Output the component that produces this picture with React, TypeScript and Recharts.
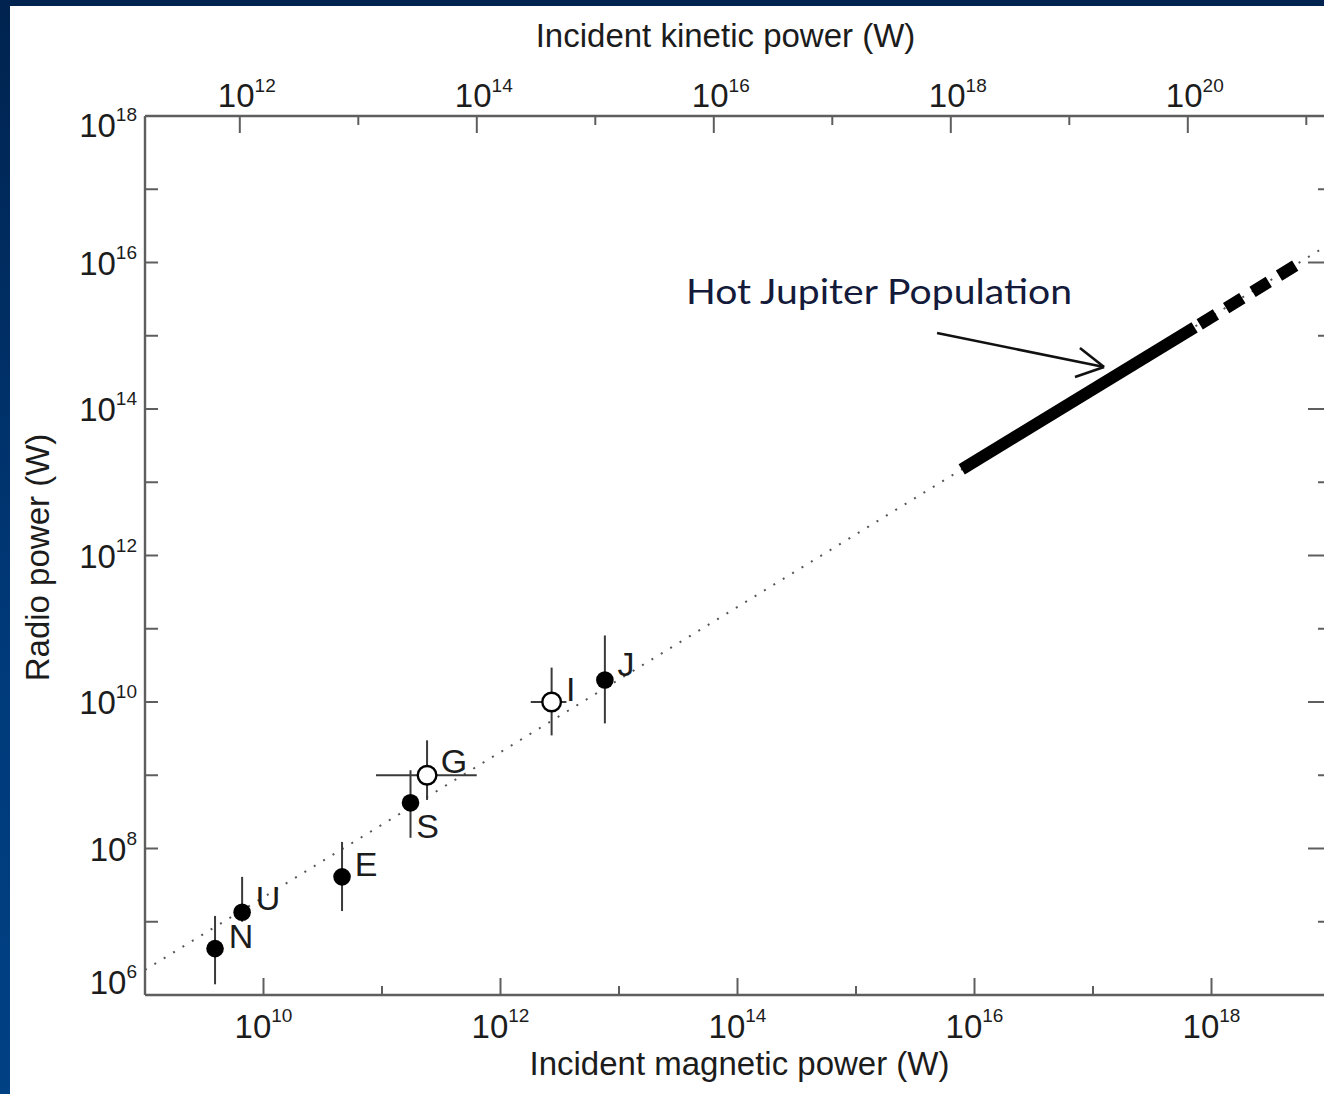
import React from 'react'
import { ComposedChart, XAxis, YAxis, Line, Scatter, ErrorBar, ReferenceLine, Label } from 'recharts'

// solar system bodies (filled = planets, open = satellites)
const bodies = ['N', 'U', 'E', 'S', 'G', 'I', 'J']
const isSatellite = [false, false, false, false, true, true, false]
const magneticPower = [3.9e9, 6.6e9, 4.6e10, 1.74e11, 2.4e11, 2.7e12, 7.6e12]
const magneticLow = [0, 0, 0, 0, 8.9e10, 1.8e12, 0]
const magneticHigh = [0, 0, 0, 0, 6.3e11, 3.6e12, 0]
const radioPower = [4.3e6, 1.35e7, 4.1e7, 4.2e8, 1.0e9, 1.0e10, 2.0e10]
const radioLow = [1.4e6, 1.0e7, 1.4e7, 1.4e8, 4.6e8, 3.5e9, 5.1e9]
const radioHigh = [1.2e7, 4.1e7, 1.23e8, 1.17e9, 3.0e9, 2.95e10, 8.1e10]

// radio-magnetic Bode's law fit
const fitMagnetic = [1e9, 1e19]
const fitRadio = [2.2e6, 1.8e16]

// hot Jupiter population (solid) and its extension (dashed)
const hotJupiterMagnetic = [7.8e15, 7.2e17]
const hotJupiterRadio = [1.5e13, 1.3e15]
const extensionMagnetic = [7.2e17, 6.2e18]
const extensionRadio = [1.3e15, 1.1e16]

// kinetic power range of the top axis
const kineticRange = [1.585e11, 1.585e21]

// annotation arrow: shaft and the two arms of the head
const arrowSegments = [
  [[4.83e15, 1.09e15], [1.24e17, 3.74e14]],
  [[7.76e16, 6.81e14], [1.24e17, 3.74e14]],
  [[7.05e16, 2.74e14], [1.24e17, 3.74e14]],
]

const magneticTicks = [1e9, 1e10, 1e11, 1e12, 1e13, 1e14, 1e15, 1e16, 1e17, 1e18, 1e19]
const kineticTicks = [1e12, 1e13, 1e14, 1e15, 1e16, 1e17, 1e18, 1e19, 1e20, 1e21]
const radioTicks = [1e6, 1e7, 1e8, 1e9, 1e10, 1e11, 1e12, 1e13, 1e14, 1e15, 1e16, 1e17, 1e18]

// label placement relative to each marker
const labelOffsets = [[26, -13], [26, -14], [24, -13], [17, 23], [27, -14], [19, -13], [21, -16]]

const points = bodies.map((name, i) => ({
  name,
  x: magneticPower[i],
  y: radioPower[i],
  open: isSatellite[i],
  errY: [radioPower[i] - radioLow[i], radioHigh[i] - radioPower[i]],
  errX: magneticLow[i] ? [magneticPower[i] - magneticLow[i], magneticHigh[i] - magneticPower[i]] : [0, 0],
}))
const fitLine = fitMagnetic.map((x, i) => ({ x, y: fitRadio[i] }))
const hotJupiters = hotJupiterMagnetic.map((x, i) => ({ x, y: hotJupiterRadio[i] }))
const extension = extensionMagnetic.map((x, i) => ({ x, y: extensionRadio[i] }))
const kineticFrame = kineticRange.map((x) => ({ x, y: 1e6 }))

const axisColor = '#5e5e5e'
const textColor = '#1c1c1c'
const font = '"Liberation Sans", Arial, Helvetica, sans-serif'

const exponent = (v: number) => Math.round(Math.log10(v))

function Power({ x, y, exp, anchor, supDy }: any) {
  return (
    <text x={x} y={y} textAnchor={anchor} fill={textColor} style={{ fontFamily: font, fontSize: 33 }}>
      10
      <tspan dy={supDy} style={{ fontSize: 19 }}>{exp}</tspan>
    </text>
  )
}

function MagneticTick({ x, y, payload }: any) {
  const e = exponent(payload.value)
  const major = e % 2 === 0
  return (
    <g>
      <line x1={x} x2={x} y1={y} y2={y - (major ? 17 : 9)} stroke={axisColor} strokeWidth={2} />
      {major && <Power x={x} y={y + 43} exp={e} anchor="middle" supDy={-16} />}
    </g>
  )
}

function KineticTick({ x, y, payload }: any) {
  const e = exponent(payload.value)
  const major = e % 2 === 0
  return (
    <g>
      <line x1={x} x2={x} y1={y} y2={y + (major ? 17 : 9)} stroke={axisColor} strokeWidth={2} />
      {major && <Power x={x + 7} y={y - 9} exp={e} anchor="middle" supDy={-15} />}
    </g>
  )
}

function RadioTick({ x, y, payload }: any) {
  const e = exponent(payload.value)
  const shift = e === 18 ? 21 : e === 6 ? -1 : 12
  return (
    <g>
      <line x1={x} x2={x + 13} y1={y} y2={y} stroke={axisColor} strokeWidth={2} />
      {e % 2 === 0 && <Power x={x - 8} y={y + shift} exp={e} anchor="end" supDy={-16} />}
    </g>
  )
}

function RightTick({ x, y, payload }: any) {
  const major = exponent(payload.value) % 2 === 0
  return <line x1={x} x2={x - (major ? 22 : 12)} y1={y} y2={y} stroke={axisColor} strokeWidth={2} />
}

function BodyMarker({ cx, cy, payload }: any) {
  const i = bodies.indexOf(payload.name)
  const [dx, dy] = labelOffsets[i]
  return (
    <g>
      {payload.open
        ? <circle cx={cx} cy={cy} r={9.3} fill="#fff" stroke="#000" strokeWidth={2.4} />
        : <circle cx={cx} cy={cy} r={8.8} fill="#000" />}
      <text x={cx + dx} y={cy + dy + 12} textAnchor="middle" fill={textColor} style={{ fontFamily: font, fontSize: 34 }}>
        {payload.name}
      </text>
    </g>
  )
}

const bottomTitle = ({ viewBox }: any) => (
  <text x={viewBox.x + viewBox.width / 2 + 2} y={viewBox.y + 80} textAnchor="middle" fill={textColor}
    style={{ fontFamily: font, fontSize: 33 }}>
    Incident magnetic power (W)
  </text>
)

const topTitle = ({ viewBox }: any) => (
  <text x={viewBox.x + viewBox.width / 2 - 12} y={viewBox.y + 47} textAnchor="middle" fill={textColor}
    style={{ fontFamily: font, fontSize: 33 }}>
    Incident kinetic power (W)
  </text>
)

const leftTitle = ({ viewBox }: any) => (
  <text transform={`translate(${viewBox.x + 49},${viewBox.y + viewBox.height / 2 + 2}) rotate(-90)`}
    textAnchor="middle" fill={textColor} style={{ fontFamily: font, fontSize: 33 }}>
    Radio power (W)
  </text>
)

export default function App() {
  return (
    <div style={{ position: 'fixed', inset: 0, overflow: 'hidden', background: 'linear-gradient(180deg, #00234f 0%, #003a7a 60%, #004184 100%)' }}>
      <div style={{ position: 'absolute', left: 10, top: 6, right: 0, bottom: 0, background: '#fff' }} />
      <div style={{ position: 'absolute', left: 0, top: 0 }}>
        <ComposedChart width={1340} height={1094} margin={{ top: 0, right: 0, bottom: 0, left: 0 }}>
          <XAxis
            dataKey="x" type="number" scale="log" domain={[1e9, 1e19]} allowDataOverflow
            ticks={magneticTicks} interval={0} tick={MagneticTick} tickLine={false} tickSize={0} tickMargin={0}
            height={99} axisLine={{ stroke: axisColor, strokeWidth: 2.4 }}
          >
            <Label content={bottomTitle} />
          </XAxis>
          <XAxis
            xAxisId="top" dataKey="x" orientation="top" type="number" scale="log" domain={kineticRange} allowDataOverflow
            ticks={kineticTicks} interval={0} tick={KineticTick} tickLine={false} tickSize={0} tickMargin={0}
            height={116} axisLine={{ stroke: axisColor, strokeWidth: 2.4 }}
          >
            <Label content={topTitle} />
          </XAxis>
          <YAxis
            dataKey="y" type="number" scale="log" domain={[1e6, 1e18]} allowDataOverflow
            ticks={radioTicks} interval={0} tick={RadioTick} tickLine={false} tickSize={0} tickMargin={0}
            width={145} axisLine={{ stroke: axisColor, strokeWidth: 2.4 }}
          >
            <Label content={leftTitle} />
          </YAxis>
          <YAxis
            yAxisId="right" orientation="right" type="number" scale="log" domain={[1e6, 1e18]} allowDataOverflow
            ticks={radioTicks} interval={0} tick={RightTick} tickLine={false} tickSize={0} tickMargin={0}
            width={10} axisLine={{ stroke: axisColor, strokeWidth: 2.4 }}
          />
          <Line xAxisId="top" data={kineticFrame} dataKey="y" stroke="none" dot={false} activeDot={false}
            isAnimationActive={false} />
          <Line data={fitLine} dataKey="y" stroke="#555" strokeWidth={2} strokeDasharray="2 9"
            dot={false} activeDot={false} isAnimationActive={false} />
          <Line data={hotJupiters} dataKey="y" stroke="#000" strokeWidth={12}
            dot={false} activeDot={false} isAnimationActive={false} />
          <Line data={extension} dataKey="y" stroke="#000" strokeWidth={12} strokeDasharray="19 12" strokeDashoffset={25}
            dot={false} activeDot={false} isAnimationActive={false} />
          {arrowSegments.map((seg, i) => (
            <ReferenceLine key={i} segment={seg.map(([x, y]) => ({ x, y }))} stroke="#111" strokeWidth={2.6} ifOverflow="visible" />
          ))}
          <Scatter data={points} dataKey="y" shape={BodyMarker} isAnimationActive={false}>
            <ErrorBar dataKey="errY" direction="y" width={0} stroke="#3a3a3a" strokeWidth={2} />
            <ErrorBar dataKey="errX" direction="x" width={0} stroke="#3a3a3a" strokeWidth={2} />
          </Scatter>
        </ComposedChart>
      </div>
      <svg width={1324} height={1094} style={{ position: 'absolute', left: 0, top: 0, pointerEvents: 'none' }}>
        <text x={686} y={304} fill="#141a3a" textLength={386} lengthAdjust="spacingAndGlyphs"
          style={{ fontFamily: 'Lato, "Open Sans", sans-serif', fontSize: 34 }}>
          Hot Jupiter Population
        </text>
      </svg>
    </div>
  )
}
